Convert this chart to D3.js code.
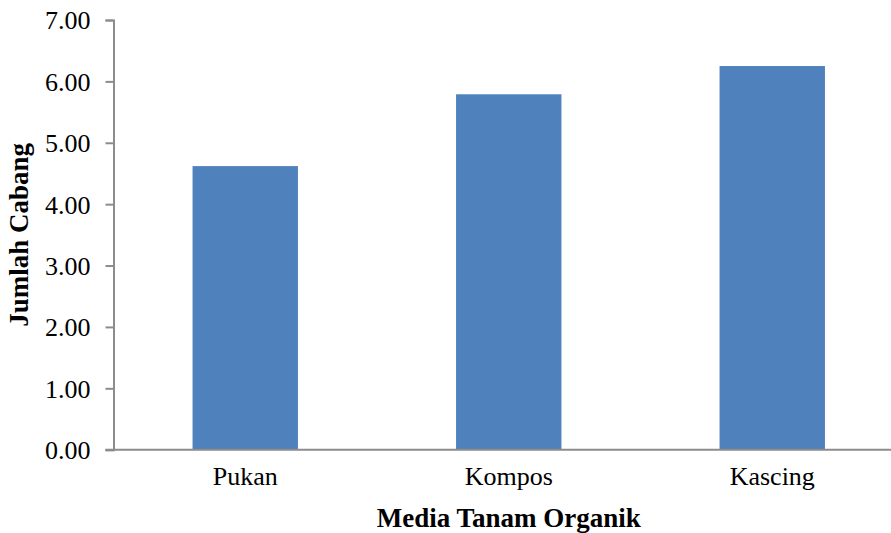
<!DOCTYPE html>
<html>
<head>
<meta charset="utf-8">
<script src="https://cdn.jsdelivr.net/npm/d3@7"></script>
<style>
  html, body { margin: 0; padding: 0; background: #fff; }
  svg { display: block; }
</style>
</head>
<body>
<svg id="chart" width="891" height="533"></svg>
<script>
const categories = ["Pukan", "Kompos", "Kascing"];
const values = [4.62, 5.79, 6.25];
const yTicks = [0, 1, 2, 3, 4, 5, 6, 7];
const xTitle = "Media Tanam Organik";
const yTitle = "Jumlah Cabang";

(function () {
const svg = d3.select("#chart");
const font = "'Liberation Serif', 'Times New Roman', serif";
const axisColor = "#8c8c8c";

const mLeft = 113.5, mRight = 904, mTop = 20, mBottom = 449.7;

const x = d3.scaleBand().domain(categories).range([mLeft, mRight]).paddingInner(0.6).paddingOuter(0.3);
const y = d3.scaleLinear().domain([0, 7]).range([mBottom, mTop]);

// bars
svg.append("g").selectAll("rect")
  .data(categories.map((c, i) => ({ c, v: values[i] })))
  .join("rect")
  .attr("x", d => x(d.c))
  .attr("width", x.bandwidth())
  .attr("y", d => y(d.v))
  .attr("height", d => y(0) - y(d.v))
  .attr("fill", "#4F81BD");

// y axis
const yAxis = d3.axisLeft(y).tickValues(yTicks).tickFormat(d3.format(".2f")).tickSize(8).tickPadding(15);
const gy = svg.append("g").attr("transform", `translate(${mLeft},0)`).call(yAxis);
gy.attr("font-family", font);
gy.select(".domain").attr("stroke", axisColor).attr("stroke-width", 2);
gy.selectAll(".tick line").attr("stroke", axisColor).attr("stroke-width", 2);
gy.selectAll(".tick text").attr("font-family", font).attr("font-size", 26).attr("fill", "#000").attr("dy", "0.34em");

// x axis
const xAxis = d3.axisBottom(x).tickSize(0).tickPadding(17);
const gx = svg.append("g").attr("transform", `translate(0,${mBottom})`).call(xAxis);
gx.attr("font-family", font);
gx.select(".domain").remove();
gx.append("line").attr("x1", mLeft - 8).attr("x2", 891).attr("y1", 0).attr("y2", 0)
  .attr("stroke", axisColor).attr("stroke-width", 2);
gx.selectAll(".tick text").attr("font-family", font).attr("font-size", 26).attr("fill", "#000");

// titles
svg.append("text")
  .attr("x", (mLeft + mRight) / 2).attr("y", 527)
  .attr("text-anchor", "middle")
  .attr("font-family", font).attr("font-weight", "bold").attr("font-size", 27)
  .text(xTitle);

svg.append("text")
  .attr("transform", `translate(28,${(mTop + mBottom) / 2}) rotate(-90)`)
  .attr("text-anchor", "middle")
  .attr("font-family", font).attr("font-weight", "bold").attr("font-size", 27)
  .text(yTitle);
})();
</script>
</body>
</html>
